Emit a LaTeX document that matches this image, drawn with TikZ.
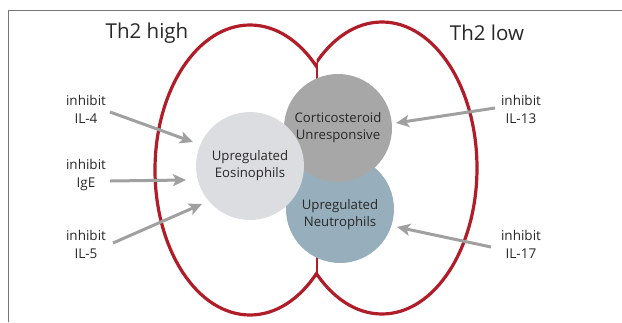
\documentclass[tikz,border=0pt]{standalone}
\usepackage{fontspec}
\setmainfont{Open Sans}
\usetikzlibrary{arrows.meta}
\definecolor{ered}{RGB}{176,28,40}
\definecolor{eosc}{RGB}{220,221,224}
\definecolor{cortc}{RGB}{167,167,167}
\definecolor{neuc}{RGB}{151,175,189}
\definecolor{txt}{RGB}{40,40,40}
\definecolor{arrc}{RGB}{160,160,160}
\definecolor{framec}{RGB}{120,120,120}
\tikzset{
  ring/.style={draw=ered, line width=3.2pt},
  cell/.style={circle, minimum size=108pt, inner sep=0pt},
  celltext/.style={text=txt, font=\fontsize{13.2}{17}\selectfont, align=center},
  lbl/.style={text=txt, font=\fontsize{13.5}{18}\selectfont, align=center},
  title/.style={text=txt, font=\fontsize{20.5}{24}\selectfont},
  arr/.style={draw=arrc, line width=3pt, -{Stealth[length=13pt,width=12pt,inset=3pt]}},
}
\begin{document}
\begin{tikzpicture}[x=1pt,y=-1pt]
\useasboundingbox (0,0) rectangle (622,322);
\draw[framec, line width=1pt] (8,322) -- (8,10) -- (622,10);
% ellipses (outer arcs only)
\begin{scope}
  \clip (0,0) rectangle (316.5,322);
  \draw[ring] (250,170) ellipse [x radius=95pt, y radius=145pt];
\end{scope}
\begin{scope}
  \clip (316.5,0) rectangle (622,322);
  \draw[ring] (382,168) ellipse [x radius=95pt, y radius=146pt];
\end{scope}
\coordinate (topx) at (316.5,63);
\coordinate (botx) at (316.5,277);
\draw[draw=ered, line width=2pt] (topx) -- (botx);
% cells
\node[cell, fill=neuc] (neu) at (340,209) {};
\node[cell, fill=cortc] (cort) at (338,128) {};
\node[cell, fill=eosc] (eos) at (250,166) {};
\node[celltext] at (eos.center) {Upregulated\\Eosinophils};
\node[celltext] at (cort.center) {Corticosteroid\\Unresponsive};
\node[celltext] (neutxt) at (340,215) {Upregulated\\Neutrophils};
% titles
\node[title] (th2h) at (147,33) {Th2 high};
\node[title] (th2l) at (487,33) {Th2 low};
% labels
\node[lbl] (il4) at (86,109) {inhibit\\IL-4};
\node[lbl] (ige) at (86,175) {inhibit\\IgE};
\node[lbl] (il5) at (86,244) {inhibit\\IL-5};
\node[lbl] (il13) at (521,109) {inhibit\\IL-13};
\node[lbl] (il17) at (521,244) {inhibit\\IL-17};
% arrows
\coordinate (a4s) at (110,112); \coordinate (a4e) at (193,142);
\coordinate (aEs) at (110,181); \coordinate (aEe) at (186,180);
\coordinate (a5s) at (113,243); \coordinate (a5e) at (202,204);
\coordinate (a13s) at (495,108); \coordinate (a13e) at (396,123);
\coordinate (a17s) at (491,247); \coordinate (a17e) at (397,227);
\draw[arr] (a4s) -- (a4e);
\draw[arr] (aEs) -- (aEe);
\draw[arr] (a5s) -- (a5e);
\draw[arr] (a13s) -- (a13e);
\draw[arr] (a17s) -- (a17e);
\end{tikzpicture}
\end{document}
